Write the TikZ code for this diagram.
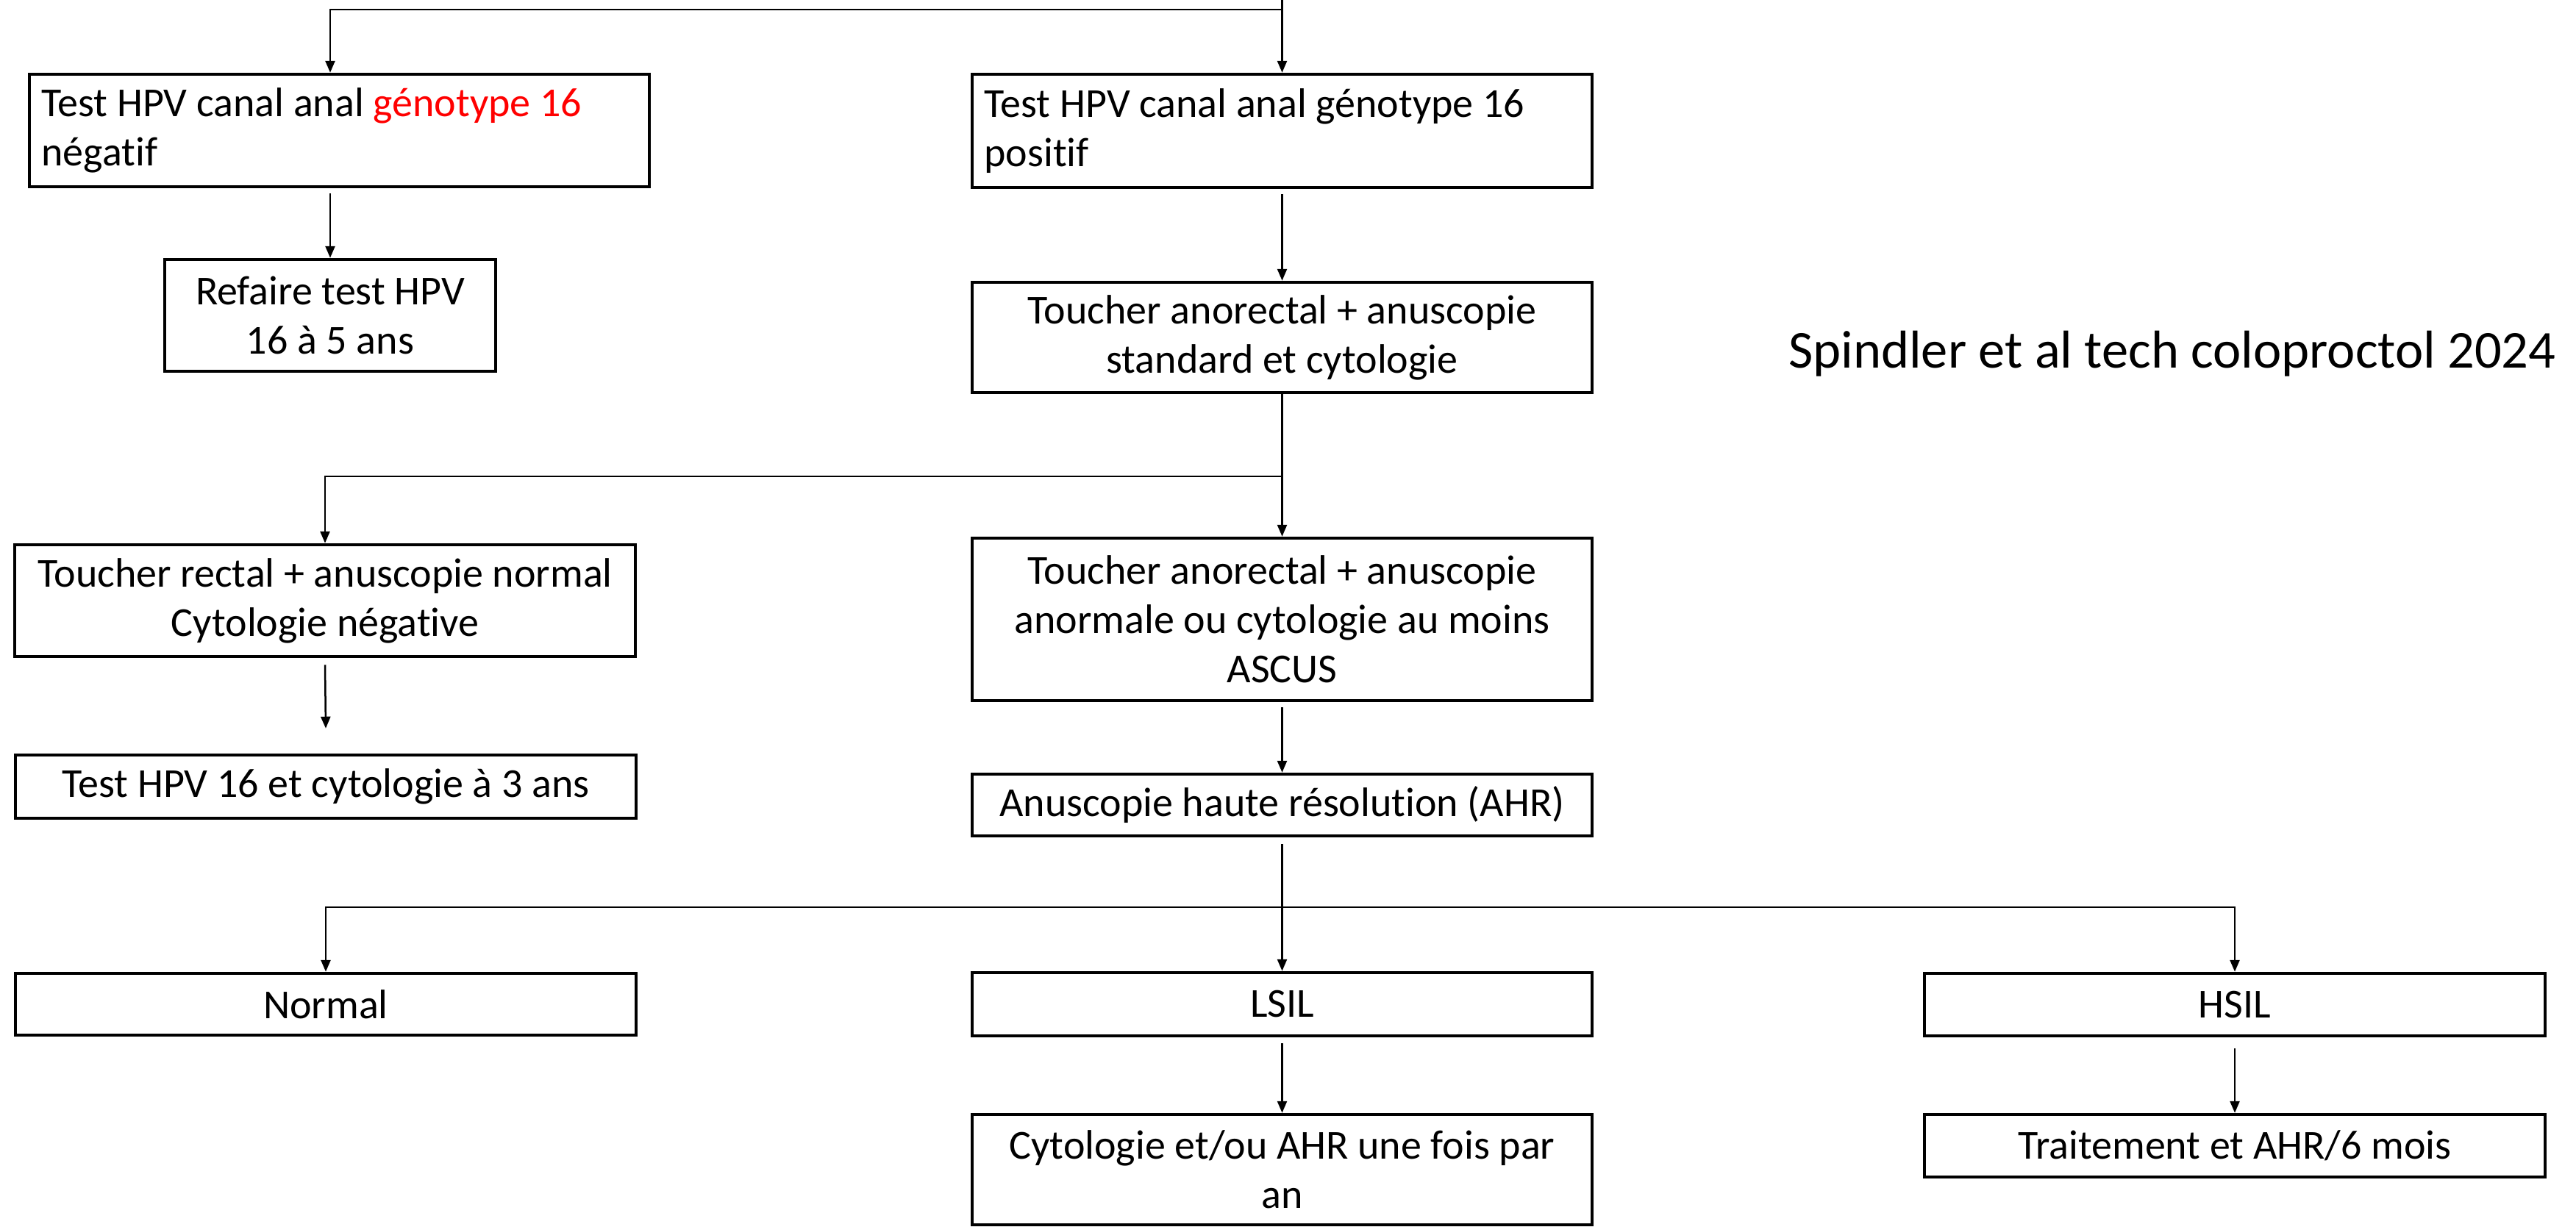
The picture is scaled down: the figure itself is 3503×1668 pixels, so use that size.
\documentclass[tikz,border=0pt]{standalone}
\usepackage{fontspec}
\setmainfont{Carlito}[Ligatures={NoCommon}]
\usetikzlibrary{arrows.meta}
\begin{document}
\begin{tikzpicture}[x=1pt,y=-1pt,
  box/.style={draw=black, line width=4.5pt, fill=white, inner sep=0pt, align=center, font=\fontsize{56}{67}\selectfont},
  arr/.style={draw=black, line width=2.5pt, -{Triangle[width=13pt,length=16pt]}}]
\useasboundingbox (0,0) rectangle (3503,1668);
\node[box, minimum width=843pt, minimum height=153pt, text width=810pt, align=flush left] (A) at (461.5,177.5) {Test HPV canal anal \textcolor{red}{génotype 16}\\négatif};
\node[box, minimum width=843pt, minimum height=154pt, text width=810pt, align=flush left] (B) at (1743.5,178) {Test HPV canal anal génotype 16\\positif};
\node[box, minimum width=450pt, minimum height=152pt] (C) at (449,429) {Refaire test HPV\\16 à 5 ans};
\node[box, minimum width=843pt, minimum height=150pt] (D) at (1743.5,459) {Toucher anorectal + anuscopie\\standard et cytologie};
\node[box, minimum width=844pt, minimum height=152pt] (F) at (442,817) {Toucher rectal + anuscopie normal\\Cytologie négative};
\node[box, minimum width=843pt, minimum height=221pt] (E) at (1743.5,842.5) {Toucher anorectal + anuscopie\\anormale ou cytologie au moins\\ASCUS};
\node[box, minimum width=844pt, minimum height=86pt] (G) at (443,1070) {Test HPV 16 et cytologie à 3 ans};
\node[box, minimum width=843pt, minimum height=84pt] (H) at (1743.5,1095) {Anuscopie haute résolution (AHR)};
\node[box, minimum width=844pt, minimum height=84pt] (N) at (443,1366) {Normal};
\node[box, minimum width=843pt, minimum height=86pt] (L) at (1743.5,1366) {LSIL};
\node[box, minimum width=844pt, minimum height=85pt] (Hs) at (3039,1366.5) {HSIL};
\node[box, minimum width=843pt, minimum height=150pt] (Cy) at (1743.5,1591) {Cytologie et/ou AHR une fois par\\an};
\node[box, minimum width=844pt, minimum height=85pt] (T) at (3039,1558.5) {Traitement et AHR/6 mois};
\node[anchor=base west, inner sep=0pt, font=\fontsize{72.5}{88}\selectfont] (ref) at (2432,500) {Spindler et al tech coloproctol 2024};
% connectors
\coordinate (top) at (1743.5,0);
\coordinate (j1) at (1743.5,13);
\coordinate (j2) at (1743.5,648);
\coordinate (j3) at (1743.5,1234);
\draw[arr] (top) -- (B.north);
\draw[arr] (j1) -| (C.center |- A.north);
\draw[arr] ([yshift=-7pt]A.south -| C.center) -- (C.north);
\draw[arr] ([yshift=-7pt]B.south) -- (D.north);
\draw[arr] (D.south) -- (E.north);
\draw[arr] (j2) -| (F.north);
\draw[arr] ([yshift=-9pt]F.south) -- ([yshift=34pt]G.north);
\draw[arr] ([yshift=-7pt]E.south) -- (H.north);
\draw[arr] ([yshift=-9pt]H.south) -- (L.north);
\draw[arr] (j3) -| (N.north);
\draw[arr] (j3) -| (Hs.north);
\draw[arr] ([yshift=-8pt]L.south) -- (Cy.north);
\draw[arr] ([yshift=-15pt]Hs.south) -- (T.north);
\end{tikzpicture}
\end{document}
